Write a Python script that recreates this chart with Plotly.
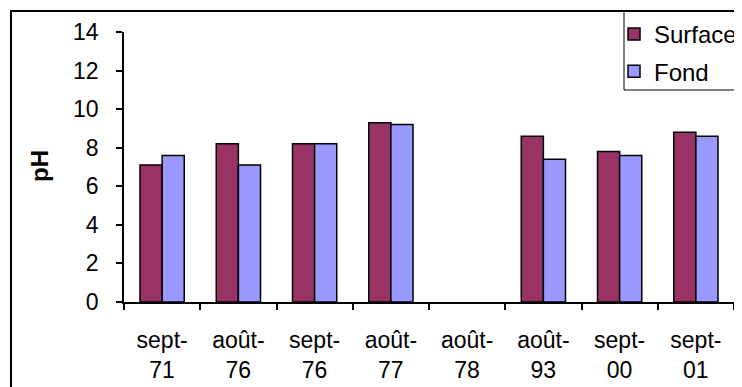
import plotly.graph_objects as go

categories = ["sept-<br>71", "août-<br>76", "sept-<br>76", "août-<br>77", "août-<br>78", "août-<br>93", "sept-<br>00", "sept-<br>01"]
surface = [7.1, 8.2, 8.2, 9.3, None, 8.6, 7.8, 8.8]
fond = [7.6, 7.1, 8.2, 9.2, None, 7.4, 7.6, 8.6]
y_ticks = [0, 2, 4, 6, 8, 10, 12, 14]

W, H = 742, 387
OFF = 8  # page body margin
# target plot area in screenshot pixels: x 124..734, y 32..302
L = 124 - OFF
T = 32 - OFF
R = W - (734 - OFF)
B = H - (302 - OFF)
pw, ph = W - L - R, H - T - B

def px_x(x):
    return (x - OFF - L) / pw

def px_y(y):
    return (H - B - (y - OFF)) / ph

FAM = "Liberation Sans, Arial, sans-serif"
font = dict(family=FAM, size=23, color="black")
legfont = dict(family=FAM, size=24, color="black")

fig = go.Figure()
fig.add_trace(go.Bar(name="Surface", x=categories, y=surface, legendgroup="a",
                     marker=dict(color="#993366", line=dict(color="black", width=1.5))))
fig.add_trace(go.Bar(name="Fond", x=categories, y=fond, legendgroup="b",
                     marker=dict(color="#9999FF", line=dict(color="black", width=1.5))))

fig.update_layout(
    width=W, height=H,
    margin=dict(l=L, r=R, t=T, b=B, pad=0, autoexpand=False),
    paper_bgcolor="white", plot_bgcolor="white",
    font=font,
    barmode="group", bargap=0.42, bargroupgap=0,
    showlegend=True,
    legend=dict(x=px_x(614), y=px_y(12), xanchor="left", yanchor="top",
                borderwidth=0, bgcolor="rgba(0,0,0,0)", tracegroupgap=3,
                font=legfont, itemwidth=30),
    xaxis=dict(showline=True, linecolor="black", linewidth=1.5, ticks="outside",
               tickson="boundaries", ticklen=6, tickcolor="black", tickwidth=1.5,
               showgrid=False, tickfont=font, ticklabelstandoff=17, automargin=False),
    yaxis=dict(range=[0, 14], tickvals=y_ticks, showline=True, linecolor="black",
               linewidth=1.5, ticks="outside", ticklen=6, tickcolor="black", tickwidth=1.5,
               showgrid=False, zeroline=False, tickfont=font, ticklabelstandoff=13,
               automargin=False),
    shapes=[
        dict(type="rect", xref="paper", yref="paper",
             x0=px_x(11), x1=px_x(770), y0=px_y(11), y1=px_y(420),
             line=dict(color="black", width=2), fillcolor="rgba(0,0,0,0)"),
        dict(type="rect", xref="paper", yref="paper",
             x0=px_x(624), x1=px_x(770), y0=px_y(11), y1=px_y(90),
             line=dict(color="black", width=1), fillcolor="rgba(0,0,0,0)"),
    ],
    annotations=[
        dict(text="<b>pH</b>", xref="paper", yref="paper", x=px_x(39), y=px_y(166),
             showarrow=False, textangle=-90,
             font=dict(family=FAM, size=24, color="black"),
             xanchor="center", yanchor="middle"),
    ],
)

fig.write_html("out.html")
